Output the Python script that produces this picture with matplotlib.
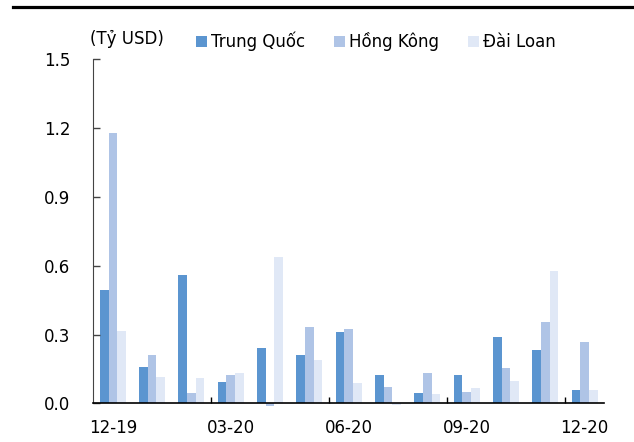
import numpy as np
import matplotlib.pyplot as plt
from matplotlib.lines import Line2D

months = ["12-19", "01-20", "02-20", "03-20", "04-20", "05-20", "06-20",
          "07-20", "08-20", "09-20", "10-20", "11-20", "12-20"]
tick_labels = ["12-19", "03-20", "06-20", "09-20", "12-20"]
trung_quoc = [0.495, 0.16, 0.56, 0.094, 0.241, 0.21, 0.311, 0.125, 0.046, 0.125, 0.291, 0.233, 0.057]
hong_kong = [1.18, 0.211, 0.045, 0.124, -0.01, 0.332, 0.323, 0.07, 0.132, 0.051, 0.153, 0.355, 0.269]
dai_loan = [0.316, 0.116, 0.112, 0.131, 0.64, 0.19, 0.087, -0.007, 0.04, 0.065, 0.097, 0.579, 0.058]

c_tq = "#5B95D0"
c_hk = "#AFC4E6"
c_dl = "#E0E8F6"

plt.rcParams['font.family'] = ['DejaVu Sans']

fig = plt.figure(figsize=(6.34, 4.42), dpi=100)
ax = fig.add_axes([0.147, 0.0875, 0.806, 0.7785])

x = np.arange(len(months))
w = 0.22
b1 = ax.bar(x - w, trung_quoc, w, color=c_tq, label="Trung Quốc", clip_on=False)
b2 = ax.bar(x, hong_kong, w, color=c_hk, label="Hồng Kông", clip_on=False)
b3 = ax.bar(x + w, dai_loan, w, color=c_dl, label="Đài Loan", clip_on=False)

ax.set_xlim(-0.5, len(months) - 0.5)
ax.set_ylim(0, 1.5)
ax.set_yticks([0, 0.3, 0.6, 0.9, 1.2, 1.5])
ax.set_yticklabels(["0.0", "0.3", "0.6", "0.9", "1.2", "1.5"])
ax.set_xticks([0, 3, 6, 9, 12])
ax.set_xticklabels(tick_labels)
ax.set_xticks([2.5, 5.5, 8.5, 11.5], minor=True)

ax.tick_params(axis='y', direction='in', length=5, width=1, color='#444444',
               pad=16.5, labelsize=12)
ax.tick_params(axis='x', which='major', length=0, pad=11, labelsize=12)
ax.tick_params(axis='x', which='minor', direction='in', length=4.5, width=1, color='black')

for s in ["top", "right"]:
    ax.spines[s].set_visible(False)
ax.spines["left"].set_color("#444444")
ax.spines["bottom"].set_color("black")
ax.spines["bottom"].set_linewidth(1.2)

fig.text(0.142, 0.912, "(Tỷ USD)", fontsize=12, va='center', ha='left')

# legend across the top, squares as handles
fig.legend(handles=[b1, b2, b3], loc='center left', bbox_to_anchor=(0.309, 0.906),
           ncol=3, frameon=False, fontsize=12, handlelength=0.65, handleheight=0.65,
           handletextpad=0.25, columnspacing=1.75, borderaxespad=0, borderpad=0)

fig.add_artist(Line2D([0.02, 1.0], [0.985, 0.985], color='black', linewidth=2.3,
                      transform=fig.transFigure))

fig.savefig("out.png", dpi=100)
